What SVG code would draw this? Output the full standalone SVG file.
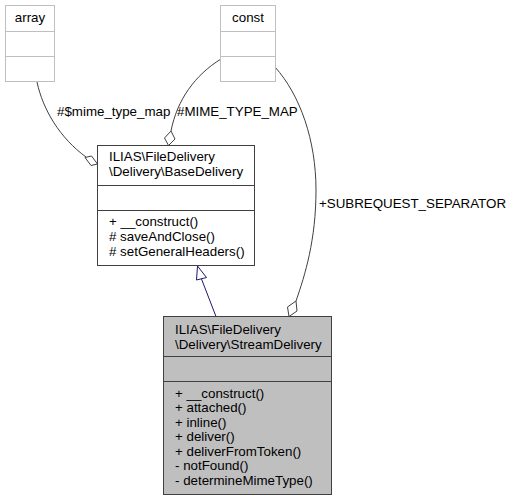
<svg xmlns="http://www.w3.org/2000/svg" width="516" height="501" viewBox="0 0 516 501">
<style>
text{font-family:"Liberation Sans",Arial,sans-serif;font-size:13.33px;fill:#000}
.lt{fill:#fff;stroke:#bfbfbf;stroke-width:1}
.ln{stroke:#bfbfbf;stroke-width:1}
.bx{fill:#fff;stroke:#404040;stroke-width:1}
.sx{fill:#bfbfbf;stroke:#404040;stroke-width:1}
.dk{stroke:#404040;stroke-width:1}
.e{fill:none;stroke:#404040;stroke-width:1}
.dm{fill:#fff;stroke:#404040;stroke-width:1}
.inh{fill:none;stroke:#191970;stroke-width:1}
.tri{fill:#fff;stroke:#191970;stroke-width:1}
</style>
<g id="edges">
<path class="e" d="M37,82 C43,110 60,138 86,157"/>
<polygon class="dm" points="97.5,164 91.5,156 85,157.5 91,165.5"/>
<path class="e" d="M221,59 C195,75 177,100 171,131"/>
<polygon class="dm" points="168.5,145.5 175,139 171,131 164.5,138"/>
<path class="e" d="M275,67 C300,95 316,140 316,190 C316,240 305,275 296,301"/>
<polygon class="dm" points="289,316.5 297,311 296,301 287.5,307"/>
<path class="inh" d="M201.5,279 L216,316.5"/>
<polygon class="tri" points="197.5,266 196.5,280 206.5,277.5"/>
<text x="57" y="116">#$mime_type_map</text>
<text x="177" y="116">#MIME_TYPE_MAP</text>
<text x="319" y="208">+SUBREQUEST_SEPARATOR</text>
</g>
<g id="array">
<rect class="lt" x="5.5" y="5.5" width="49" height="76"/>
<line class="ln" x1="5.5" y1="31.5" x2="54.5" y2="31.5"/>
<line class="ln" x1="5.5" y1="56.5" x2="54.5" y2="56.5"/>
<text x="30" y="22" text-anchor="middle">array</text>
</g>
<g id="const">
<rect class="lt" x="220.5" y="5.5" width="55" height="76"/>
<line class="ln" x1="220.5" y1="31.5" x2="275.5" y2="31.5"/>
<line class="ln" x1="220.5" y1="56.5" x2="275.5" y2="56.5"/>
<text x="248" y="22" text-anchor="middle">const</text>
</g>
<g id="BaseDelivery">
<rect class="bx" x="97.5" y="145.5" width="157" height="120"/>
<line class="dk" x1="97.5" y1="185.5" x2="254.5" y2="185.5"/>
<line class="dk" x1="97.5" y1="210.5" x2="254.5" y2="210.5"/>
<text x="109" y="161">ILIAS\FileDelivery</text>
<text x="109" y="175.5">\Delivery\BaseDelivery</text>
<text x="109" y="226">+ __construct()</text>
<text x="109" y="241"># saveAndClose()</text>
<text x="109" y="256"># setGeneralHeaders()</text>
</g>
<g id="StreamDelivery">
<rect class="sx" x="163.5" y="316.5" width="168" height="178"/>
<line class="dk" x1="163.5" y1="356.5" x2="331.5" y2="356.5"/>
<line class="dk" x1="163.5" y1="381.5" x2="331.5" y2="381.5"/>
<text x="175" y="334">ILIAS\FileDelivery</text>
<text x="175" y="348.5">\Delivery\StreamDelivery</text>
<text x="175" y="397.5">+ __construct()</text>
<text x="175" y="412">+ attached()</text>
<text x="175" y="426.5">+ inline()</text>
<text x="175" y="441">+ deliver()</text>
<text x="175" y="455.5">+ deliverFromToken()</text>
<text x="175" y="470">- notFound()</text>
<text x="175" y="484.5">- determineMimeType()</text>
</g>
</svg>
